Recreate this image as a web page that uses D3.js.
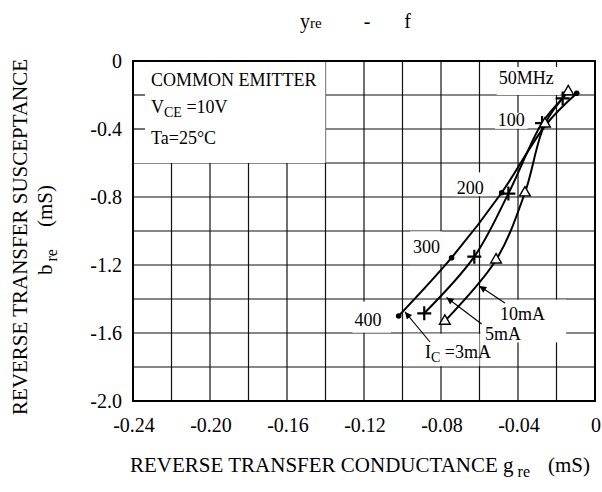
<!DOCTYPE html>
<html><head><meta charset="utf-8">
<script src="https://cdn.jsdelivr.net/npm/d3@7"></script>
<style>
html,body{margin:0;padding:0;background:#fff;}
text{font-family:"Liberation Serif","Times New Roman",serif;fill:#000;}
</style></head>
<body>
<svg id="chart" width="602" height="492"></svg>
<script>
// ---- data ----
const freqs = [50, 100, 200, 300, 400];
const g3mA = [-0.0095, -0.0255, -0.0485, -0.0745, -0.1020];
const b3mA = [-0.190, -0.375, -0.775, -1.157, -1.500];
const g5mA = [-0.0168, -0.0275, -0.0450, -0.0627, -0.0887];
const b5mA = [-0.220, -0.365, -0.780, -1.151, -1.484];
const g10mA = [-0.0139, -0.0260, -0.0364, -0.0514, -0.0780];
const b10mA = [-0.180, -0.370, -0.775, -1.170, -1.530];
const xTicks = [-0.24, -0.20, -0.16, -0.12, -0.08, -0.04, 0];
const xTickLabels = ["-0.24", "-0.20", "-0.16", "-0.12", "-0.08", "-0.04", "0"];
const yTicks = [0, -0.4, -0.8, -1.2, -1.6, -2.0];
const yTickLabels = ["0", "-0.4", "-0.8", "-1.2", "-1.6", "-2.0"];
const freqLabels = ["50MHz", "100", "200", "300", "400"];

const svg = d3.select("#chart");
const L = 133, R = 595, T = 61, B = 401;
const x = d3.scaleLinear().domain([-0.24, 0]).range([L, R]);
const y = d3.scaleLinear().domain([0, -2.0]).range([T, B]);

// grid
const gridX = d3.range(-0.22, -0.001, 0.02);
const gridY = d3.range(-0.2, -1.99, -0.2);
const grid = svg.append("g").attr("stroke", "#111").attr("stroke-width", 1.2);
grid.selectAll("line.v").data(gridX).join("line")
  .attr("x1", d => x(d)).attr("x2", d => x(d)).attr("y1", T).attr("y2", B);
grid.selectAll("line.h").data(gridY).join("line")
  .attr("x1", L).attr("x2", R).attr("y1", d => y(d)).attr("y2", d => y(d));

// white-out boxes behind labels (data units)
const boxes = [
  [-0.24, -0.14, 0, -0.6],            // conditions box
  [-0.0510, -0.0180, -0.035, -0.2],   // 50MHz
  [-0.0520, -0.0350, -0.305, -0.399], // 100
  [-0.0730, -0.0565, -0.655, -0.795], // 200
  [-0.0960, -0.0795, -1.002, -1.195], // 300
  [-0.1260, -0.1060, -1.415, -1.598], // 400
  [-0.0995, -0.0600, -1.604, -1.795], // Ic=3mA
  [-0.0595, -0.0150, -1.404, -1.655]  // 10mA / 5mA
];
svg.append("g").selectAll("rect").data(boxes).join("rect")
  .attr("x", d => x(d[0])).attr("width", d => x(d[1]) - x(d[0]))
  .attr("y", d => y(d[2])).attr("height", d => y(d[3]) - y(d[2]))
  .attr("fill", "#fff");

// small left ticks inside conditions box
svg.append("g").selectAll("line").data([-0.2, -0.4]).join("line")
  .attr("x1", L).attr("x2", L + 12).attr("y1", d => y(d)).attr("y2", d => y(d))
  .attr("stroke", "#111").attr("stroke-width", 1.2);

// frame
svg.append("rect").attr("x", L).attr("y", T).attr("width", R - L).attr("height", B - T)
  .attr("fill", "none").attr("stroke", "#000").attr("stroke-width", 2);

// axes labels
svg.append("g").selectAll("text").data(xTicks).join("text")
  .attr("x", d => x(d) + 1).attr("y", B + 31).attr("text-anchor", "middle")
  .attr("font-size", 20).text((d, i) => xTickLabels[i]);
svg.append("g").selectAll("text").data(yTicks).join("text")
  .attr("x", L - 11).attr("y", d => y(d) + 7).attr("text-anchor", "end")
  .attr("font-size", 20).text((d, i) => yTickLabels[i]);

// curves
const series = [
  {g: g3mA, b: b3mA, m: "dot"},
  {g: g5mA, b: b5mA, m: "plus"},
  {g: g10mA, b: b10mA, m: "tri"}
];
const line = d3.line().x(d => x(d[0])).y(d => y(d[1])).curve(d3.curveCatmullRom.alpha(0.5));
series.forEach(s => {
  const pts = s.g.map((g, i) => [g, s.b[i]]);
  svg.append("path").attr("d", line(pts)).attr("fill", "none")
    .attr("stroke", "#000").attr("stroke-width", 2);
  const gm = svg.append("g");
  pts.forEach(p => {
    const px = x(p[0]), py = y(p[1]);
    if (s.m === "dot") {
      gm.append("circle").attr("cx", px).attr("cy", py).attr("r", 2.8).attr("fill", "#000");
    } else if (s.m === "plus") {
      gm.append("path").attr("d", `M${px-7},${py}H${px+7}M${px},${py-7}V${py+7}`)
        .attr("stroke", "#000").attr("stroke-width", 2.2);
    } else {
      gm.append("path").attr("d", d3.symbol(d3.symbolTriangle, 50)())
        .attr("transform", `translate(${px},${py})`)
        .attr("fill", "#fff").attr("stroke", "#000").attr("stroke-width", 1.4);
    }
  });
});

// frequency labels
const flabPos = [[-0.0500, -0.135], [-0.0505, -0.385], [-0.0718, -0.785], [-0.0945, -1.130], [-0.1250, -1.560]];
svg.append("g").selectAll("text").data(flabPos).join("text")
  .attr("x", d => x(d[0])).attr("y", d => y(d[1])).attr("font-size", 18)
  .text((d, i) => freqLabels[i]);

// conditions text
const cond = svg.append("g").attr("font-size", 18);
cond.append("text").attr("x", 151).attr("y", 86).text("COMMON EMITTER");
const vce = cond.append("text").attr("x", 151).attr("y", 113);
vce.append("tspan").text("V");
vce.append("tspan").attr("font-size", 14).attr("dy", 4).text("CE");
vce.append("tspan").attr("dy", -4).text(" =10V");
cond.append("text").attr("x", 151).attr("y", 144).text("Ta=25°C");

// current labels with leader arrows
const arrows = [
  {from: [-0.0857, -1.653], to: [-0.0987, -1.476]},
  {from: [-0.0589, -1.547], to: [-0.0771, -1.391]},
  {from: [-0.0468, -1.424], to: [-0.0601, -1.324]}
];
svg.append("defs").append("marker").attr("id", "ah").attr("viewBox", "0 0 10 10")
  .attr("refX", 10).attr("refY", 5).attr("markerWidth", 11).attr("markerHeight", 7)
  .attr("markerUnits", "userSpaceOnUse").attr("orient", "auto")
  .append("path").attr("d", "M0,0L10,5L0,10Z").attr("fill", "#000");
svg.append("g").selectAll("line").data(arrows).join("line")
  .attr("x1", d => x(d.from[0])).attr("y1", d => y(d.from[1]))
  .attr("x2", d => x(d.to[0])).attr("y2", d => y(d.to[1]))
  .attr("stroke", "#000").attr("stroke-width", 1.1).attr("marker-end", "url(#ah)");

const lab = svg.append("g").attr("font-size", 18);
lab.append("text").attr("x", x(-0.0494)).attr("y", y(-1.523)).text("10mA");
lab.append("text").attr("x", x(-0.0571)).attr("y", y(-1.641)).text("5mA");
const ic = lab.append("text").attr("x", x(-0.0883)).attr("y", y(-1.747));
ic.append("tspan").text("I");
ic.append("tspan").attr("font-size", 14).attr("dy", 4).text("C");
ic.append("tspan").attr("dy", -4).text(" =3mA");

// title
const title = svg.append("text").attr("x", 300).attr("y", 28).attr("font-size", 20);
title.append("tspan").text("y");
title.append("tspan").attr("font-size", 15).text("re");
title.append("tspan").attr("dx", 42).text("-");
title.append("tspan").attr("dx", 34).text("f");

// x axis title
const xt = svg.append("text").attr("x", 130).attr("y", 472).attr("font-size", 21);
xt.append("tspan").text("REVERSE TRANSFER CONDUCTANCE g");
xt.append("tspan").attr("font-size", 16).attr("dx", 4).attr("dy", 5).text("re");
xt.append("tspan").attr("dy", -5).attr("dx", 18).text("(mS)");

// y axis title
svg.append("text").attr("transform", "translate(27,237) rotate(-90)")
  .attr("text-anchor", "middle").attr("font-size", 21)
  .text("REVERSE TRANSFER SUSCEPTANCE");
const yt2 = svg.append("text").attr("transform", "translate(52,230) rotate(-90)")
  .attr("text-anchor", "middle").attr("font-size", 21);
yt2.append("tspan").text("b");
yt2.append("tspan").attr("font-size", 16).attr("dx", 3).attr("dy", 5).text("re");
yt2.append("tspan").attr("dy", -5).attr("dx", 22).text("(mS)");
</script>
</body></html>
